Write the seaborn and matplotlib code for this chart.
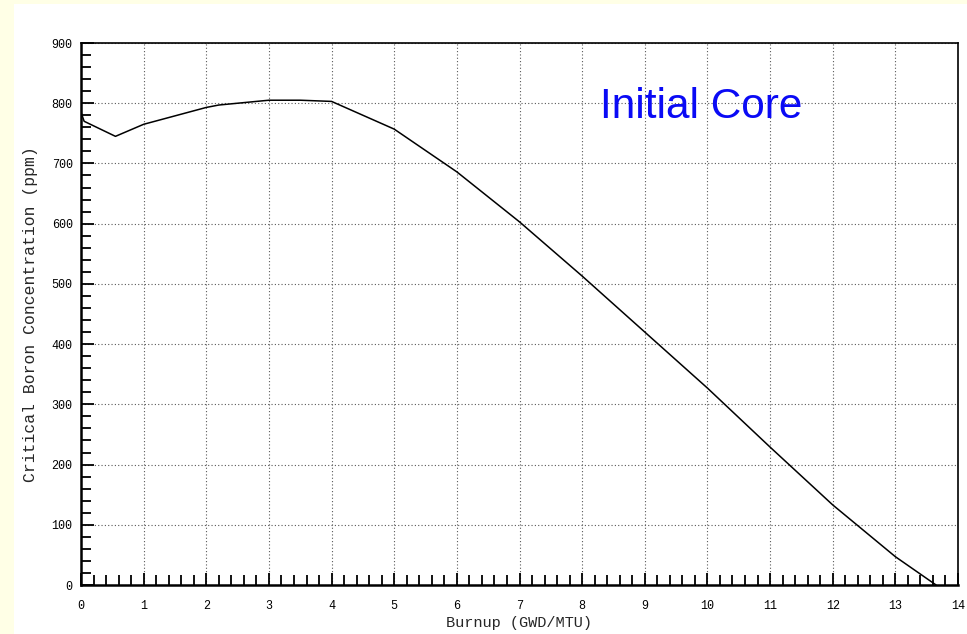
import matplotlib
matplotlib.use("Agg")
import matplotlib.pyplot as plt
import seaborn as sns
import pandas as pd
from matplotlib.ticker import MultipleLocator
from matplotlib.patches import Rectangle

burnup = [0.0, 0.05, 0.55, 1.0, 2.0, 2.2, 3.0, 3.5, 4.0, 5.0, 6.0, 7.0, 8.0, 9.0, 10.0, 11.0, 12.0, 13.0, 13.65]
boron = [785, 770, 745, 765, 793, 797, 805, 805, 803, 757, 686, 603, 513, 420, 327, 229, 133, 47, 0]

df = pd.DataFrame({"Burnup": burnup, "Boron": boron})

sns.set_style("white")
plt.rcParams['font.family'] = ['Liberation Mono', 'DejaVu Sans Mono']

W, H = 967, 634
fig = plt.figure(figsize=(W / 100, H / 100), dpi=100, facecolor='#FFFFE6')
bg = Rectangle((14 / W, 0), 1 - 14 / W, 1 - 4 / H, transform=fig.transFigure,
               facecolor='white', edgecolor='none', zorder=-10)
fig.patches.append(bg)

left, right, bottom, top = 81 / W, 958 / W, 1 - 585 / H, 1 - 43 / H
ax = fig.add_axes([left, bottom, right - left, top - bottom])
ax.set_zorder(5)
ax.set_facecolor('none')

sns.lineplot(data=df, x="Burnup", y="Boron", ax=ax, color='black', linewidth=1.1, sort=False)

ax.set_xlim(0, 14)
ax.set_ylim(0, 900)
ax.xaxis.set_major_locator(MultipleLocator(1))
ax.xaxis.set_minor_locator(MultipleLocator(0.2))
ax.yaxis.set_major_locator(MultipleLocator(100))
ax.yaxis.set_minor_locator(MultipleLocator(20))
ax.tick_params(axis='both', which='major', direction='in', length=9, width=1.3, colors='black',
               labelsize=8.5)
ax.tick_params(axis='x', which='major', pad=11)
ax.tick_params(axis='y', which='major', pad=6)
ax.tick_params(axis='both', which='minor', direction='in', length=7, width=1.3, colors='black')
ax.tick_params(axis='x', which='both', bottom=True, top=False)
ax.tick_params(axis='y', which='both', left=True, right=False)

ax.grid(True, which='major', linestyle=(0, (1, 2)), color='0.35', linewidth=0.8)

for side in ['left', 'bottom']:
    ax.spines[side].set_linewidth(1.8)
    ax.spines[side].set_color('black')
for side in ['top', 'right']:
    ax.spines[side].set_linewidth(1.2)
    ax.spines[side].set_color('black')

ax.set_xlabel("Burnup (GWD/MTU)", fontsize=11, labelpad=3)
ax.set_ylabel("Critical Boron Concentration (ppm)", fontsize=11.8, labelpad=10)

fig.text(600 / W, 1 - 118 / H, "Initial Core", fontsize=30.5, color='#0A0AF5',
         family='Liberation Sans', ha='left', va='baseline', zorder=10)

fig.savefig("out.png", dpi=100, facecolor=fig.get_facecolor())
